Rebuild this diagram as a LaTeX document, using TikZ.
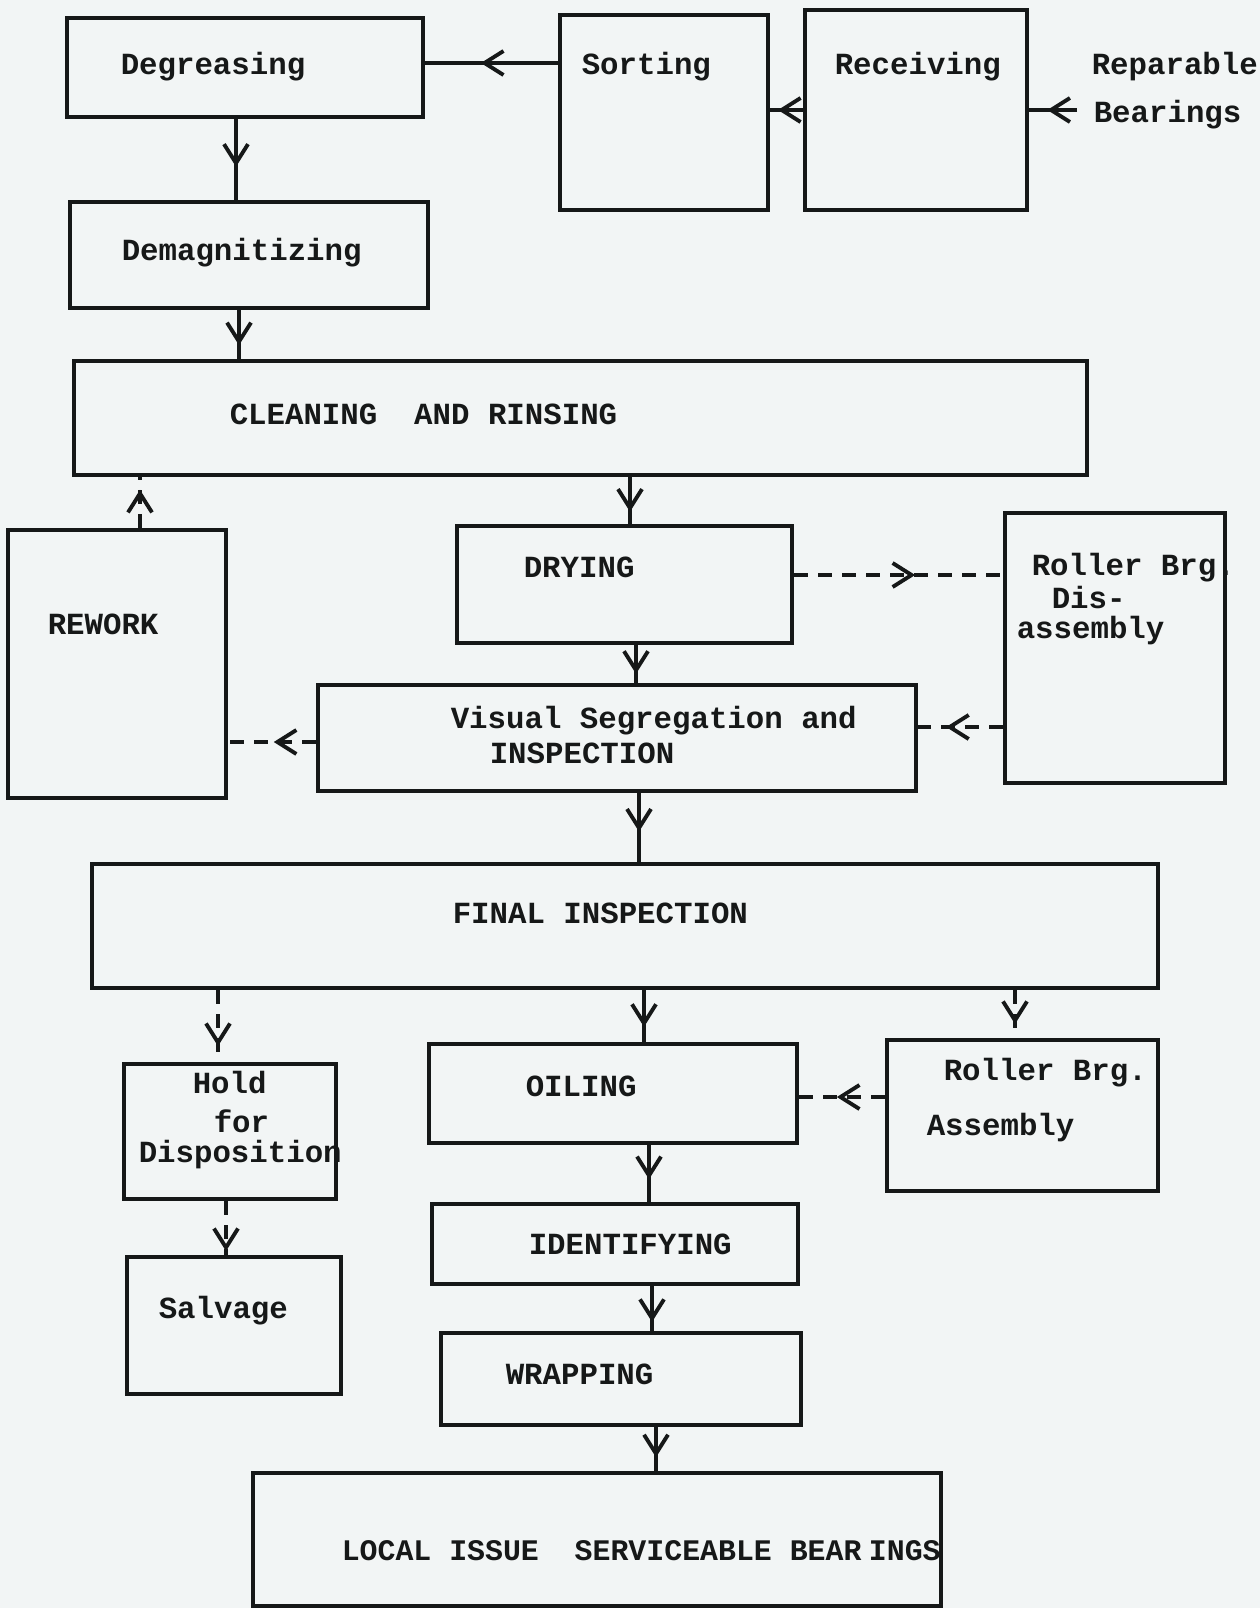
\documentclass[tikz,border=0pt]{standalone}
\usepackage{fontspec}
\setmonofont{Liberation Mono}
\usepackage{xcolor}
\usetikzlibrary{arrows.meta,positioning,fit,decorations.markings}

\definecolor{paper}{RGB}{242,245,245}
\definecolor{ink}{RGB}{22,24,24}

\begin{document}
\begin{tikzpicture}[
		x = 0.02cm, y = -0.02cm, % one unit = one pixel of the scan
		draw = ink,
		line width = 2pt, % line style
		barb/.tip = {Straight Barb[length = 3.8mm, width = 4.8mm, line width = 2.2pt]}
	]
	
	\tikzstyle{box}=[
	draw = ink,
	line width = 2.4pt,
	inner sep = 0pt
	]
	\tikzstyle{txt}=[
	anchor = base west,
	inner sep = 0pt,
	text = ink,
	font = \ttfamily\bfseries\fontsize{17.5}{20}\selectfont
	]
	\tikzset{
	flow/.style = {draw = ink, line width = 2pt, postaction = {decorate},
		decoration = {markings, mark = at position #1 with {\arrow{barb}}}},
	alt/.style = {flow = #1, dash pattern = on 0.28cm off 0.2cm}
	}
	
	% page
	\fill[paper] (0,0) rectangle (1260,1608);
	\useasboundingbox (0,0) rectangle (1260,1608);
	
	% boxes
	\node[box, fit = {(67,18) (423,117)}] (deg) {};
	\node[box, fit = {(560,15) (768,210)}] (sort) {};
	\node[box, fit = {(805,10) (1027,210)}] (recv) {};
	\node[box, fit = {(70,202) (428,308)}] (dem) {};
	\node[box, fit = {(74,361) (1087,475)}] (clean) {};
	\node[box, fit = {(8,530) (226,798)}] (rew) {};
	\node[box, fit = {(457,526) (792,643)}] (dry) {};
	\node[box, fit = {(1005,513) (1225,783)}] (dis) {};
	\node[box, fit = {(318,685) (916,791)}] (vis) {};
	\node[box, fit = {(92,864) (1158,988)}] (final) {};
	\node[box, fit = {(124,1064) (336,1199)}] (hold) {};
	\node[box, fit = {(429,1044) (797,1143)}] (oil) {};
	\node[box, fit = {(887,1040) (1158,1191)}] (asm) {};
	\node[box, fit = {(432,1204) (798,1284)}] (ident) {};
	\node[box, fit = {(127,1257) (341,1394)}] (salv) {};
	\node[box, fit = {(441,1333) (801,1425)}] (wrap) {};
	\node[box, fit = {(253,1473) (941,1606)}] (local) {};
	
	% texts
	\node[txt] (degT) at (119,75) {Degreasing};
	\node[txt] (sortT) at (580,75) {Sorting};
	\node[txt] (recvT) at (833,75) {Receiving};
	\node[txt] (repA) at (1090,75) {Reparable};
	\node[txt] (repB) at (1092,123) {Bearings};
	\node[txt] (demT) at (120,261) {Demagnitizing};
	\node[txt] (cleanT) at (228,424) {CLEANING\ \ AND RINSING};
	\node[txt] (rewT) at (46,634) {REWORK};
	\node[txt] (dryT) at (522,577) {DRYING};
	\node[txt] (disA) at (1030,575) {Roller Brg.};
	\node[txt] (disB) at (1050,608) {Dis-};
	\node[txt] (disC) at (1015,638) {assembly};
	\node[txt] (visA) at (449,728) {Visual Segregation and};
	\node[txt] (visB) at (488,763) {INSPECTION};
	\node[txt] (finalT) at (451,923) {FINAL INSPECTION};
	\node[txt] (holdA) at (191,1093) {Hold};
	\node[txt] (holdB) at (212,1132) {for};
	\node[txt] (holdC) at (137,1162) {Disposition};
	\node[txt] (oilT) at (524,1096) {OILING};
	\node[txt] (asmA) at (942,1080) {Roller Brg.};
	\node[txt] (asmB) at (925,1135) {Assembly};
	\node[txt] (identT) at (527,1254) {IDENTIFYING};
	\node[txt] (salvT) at (157,1318) {Salvage};
	\node[txt] (wrapT) at (504,1384) {WRAPPING};
	\node[txt, font = \ttfamily\bfseries\fontsize{17}{20}\selectfont] (localT) at (340,1560)
		{LOCAL ISSUE\ \ SERVICEABLE BEAR\kern-0.35em\ INGS};
	
	\coordinate (rep) at (1077,110);
	
	% solid flow
	\draw[flow = 0.58] (sort.west |- 0,63) -- (deg.east |- 0,63);
	\draw[flow = 0.76] (recv.west |- 0,110) -- (sort.east |- 0,110);
	\draw[flow = 0.62] (rep) -- (recv.east |- rep);
	\draw[flow = 0.59] (deg.south -| 236,0) -- (dem.north -| 236,0);
	\draw[flow = 0.72] (dem.south -| 239,0) -- (clean.north -| 239,0);
	\draw[flow = 0.74] (clean.south -| 630,0) -- (dry.north -| 630,0);
	\draw[flow = 0.76] (dry.south -| 636,0) -- (vis.north -| 636,0);
	\draw[flow = 0.56] (vis.south -| 639,0) -- (final.north -| 639,0);
	\draw[flow = 0.71] (final.south -| 644,0) -- (oil.north -| 644,0);
	\draw[flow = 0.60] (oil.south -| 649,0) -- (ident.north -| 649,0);
	\draw[flow = 0.80] (ident.south -| 652,0) -- (wrap.north -| 652,0);
	\draw[flow = 0.69] (wrap.south -| 656,0) -- (local.north -| 656,0);
	
	% dashed flow
	\draw[alt = 0.75] (rew.north -| 140,0) -- (clean.south -| 140,0);
	\draw[alt = 0.58] (dry.east |- 0,575) -- (dis.west |- 0,575);
	\draw[alt = 0.67] (dis.west |- 0,727) -- (vis.east |- 0,727);
	\draw[alt = 0.48] (vis.west |- 0,742) -- (rew.east |- 0,742);
	\draw[alt = 0.78] (final.south -| 218,0) -- (hold.north -| 218,0);
	\draw[alt = 0.71] (final.south -| 1015,0) -- (asm.north -| 1015,0);
	\draw[alt = 0.56] (asm.west |- 0,1097) -- (oil.east |- 0,1097);
	\draw[alt = 0.93] (hold.south -| 226,0) -- (salv.north -| 226,0);
\end{tikzpicture}
\end{document}
